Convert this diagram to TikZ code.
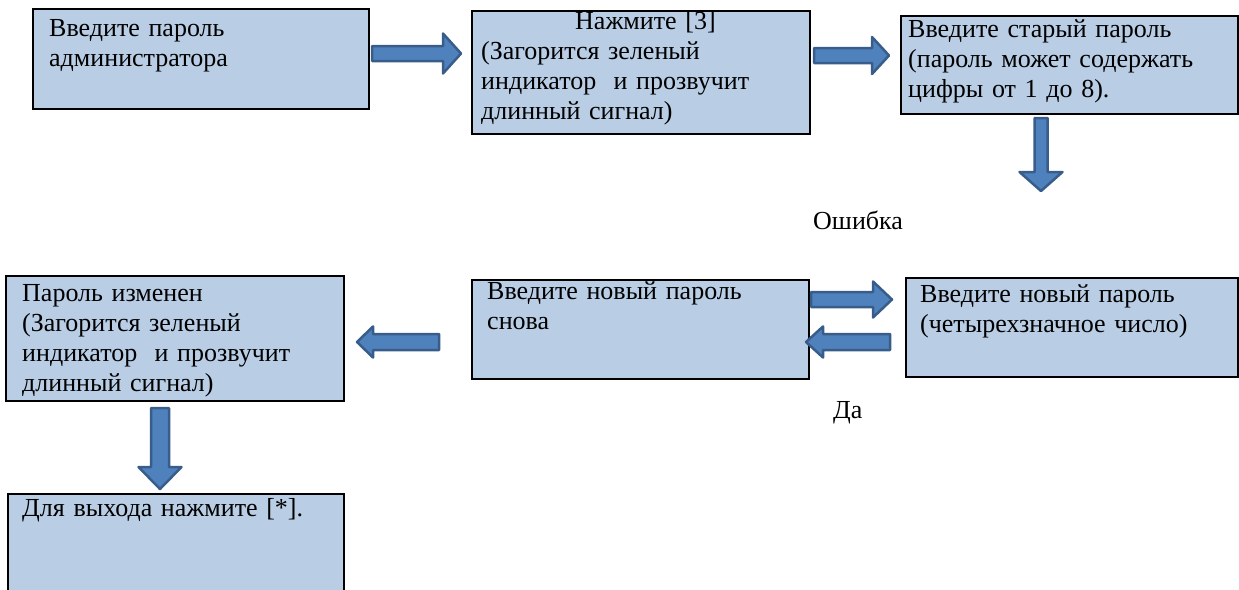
\documentclass[tikz,border=0pt]{standalone}
\usepackage{fontspec}
\setmainfont{Liberation Serif}
\definecolor{boxfill}{HTML}{B9CDE5}
\definecolor{arrfill}{HTML}{4F81BD}
\definecolor{arrline}{HTML}{385D8A}
\begin{document}
\begin{tikzpicture}[x=1pt,y=-1pt,
  flowbox/.style={draw=black, line width=2pt, fill=boxfill, inner sep=0pt, anchor=north west},
  boxtext/.style={anchor=base west, inner sep=0pt, text width=330pt, align=left, font=\fontsize{26}{30}\selectfont},
  lbl/.style={anchor=base west, inner sep=0pt, font=\fontsize{26}{30}\selectfont},
  blockarrow/.style={draw=arrline, fill=arrfill, line width=2.5pt, line join=round}]
\useasboundingbox (0,0) rectangle (1239,589);
\clip (0,0) rectangle (1239,589);
% boxes
\node[flowbox, minimum width=336pt, minimum height=100pt] (b1) at (32,8) {};
\node[flowbox, minimum width=338pt, minimum height=123pt] (b2) at (471,10) {};
\node[flowbox, minimum width=337pt, minimum height=98pt] (b3) at (900,15) {};
\node[flowbox, minimum width=332pt, minimum height=99pt] (b5) at (905,277) {};
\node[flowbox, minimum width=337pt, minimum height=99pt] (b4) at (471,279) {};
\node[flowbox, minimum width=338pt, minimum height=125pt] (b6) at (5,275) {};
\node[flowbox, minimum width=336pt, minimum height=120pt] (b7) at (7,493) {};
% texts
\node[boxtext] (t1) at (49,36) {Введите пароль\\администратора};
\node[boxtext] (t2) at (481,29) {\hspace*{94pt}Нажмите [3]\\(Загорится зеленый\\индикатор\ \ и прозвучит\\длинный сигнал)};
\node[boxtext] (t3) at (908,37) {Введите старый пароль\\(пароль может содержать\\цифры от 1 до 8).};
\node[boxtext] (t5) at (920,302) {Введите новый пароль\\(четырехзначное число)};
\node[boxtext] (t4) at (487,299) {Введите новый пароль\\снова};
\node[boxtext] (t6) at (22,301) {Пароль изменен\\(Загорится зеленый\\индикатор\ \ и прозвучит\\длинный сигнал)};
\node[boxtext] (t7) at (22,516) {Для выхода нажмите [*].};
\node[lbl] (err) at (813,229) {Ошибка};
\node[lbl] (yes) at (833,418) {Да};
% block arrows
\draw[blockarrow] (372,46) -- (443,46) -- (443,33.5) -- (461,53.5) -- (443,73.5) -- (443,61) -- (372,61) -- cycle;
\draw[blockarrow] (814,48) -- (872,48) -- (872,37) -- (889,55.5) -- (872,74) -- (872,63) -- (814,63) -- cycle;
\draw[blockarrow] (1034.5,118) -- (1034.5,172) -- (1019.5,172) -- (1041,191) -- (1062.5,172) -- (1047.5,172) -- (1047.5,118) -- cycle;
\draw[blockarrow] (811,292) -- (873,292) -- (873,281.5) -- (892,299.5) -- (873,317.5) -- (873,307) -- (811,307) -- cycle;
\draw[blockarrow] (890,334) -- (823,334) -- (823,326.5) -- (806,342) -- (823,357.5) -- (823,350) -- (890,350) -- cycle;
\draw[blockarrow] (439,334) -- (373,334) -- (373,326.5) -- (357,342) -- (373,357.5) -- (373,350) -- (439,350) -- cycle;
\draw[blockarrow] (151,408) -- (151,467) -- (138.5,467) -- (160,489) -- (181.5,467) -- (169,467) -- (169,408) -- cycle;
\end{tikzpicture}
\end{document}
